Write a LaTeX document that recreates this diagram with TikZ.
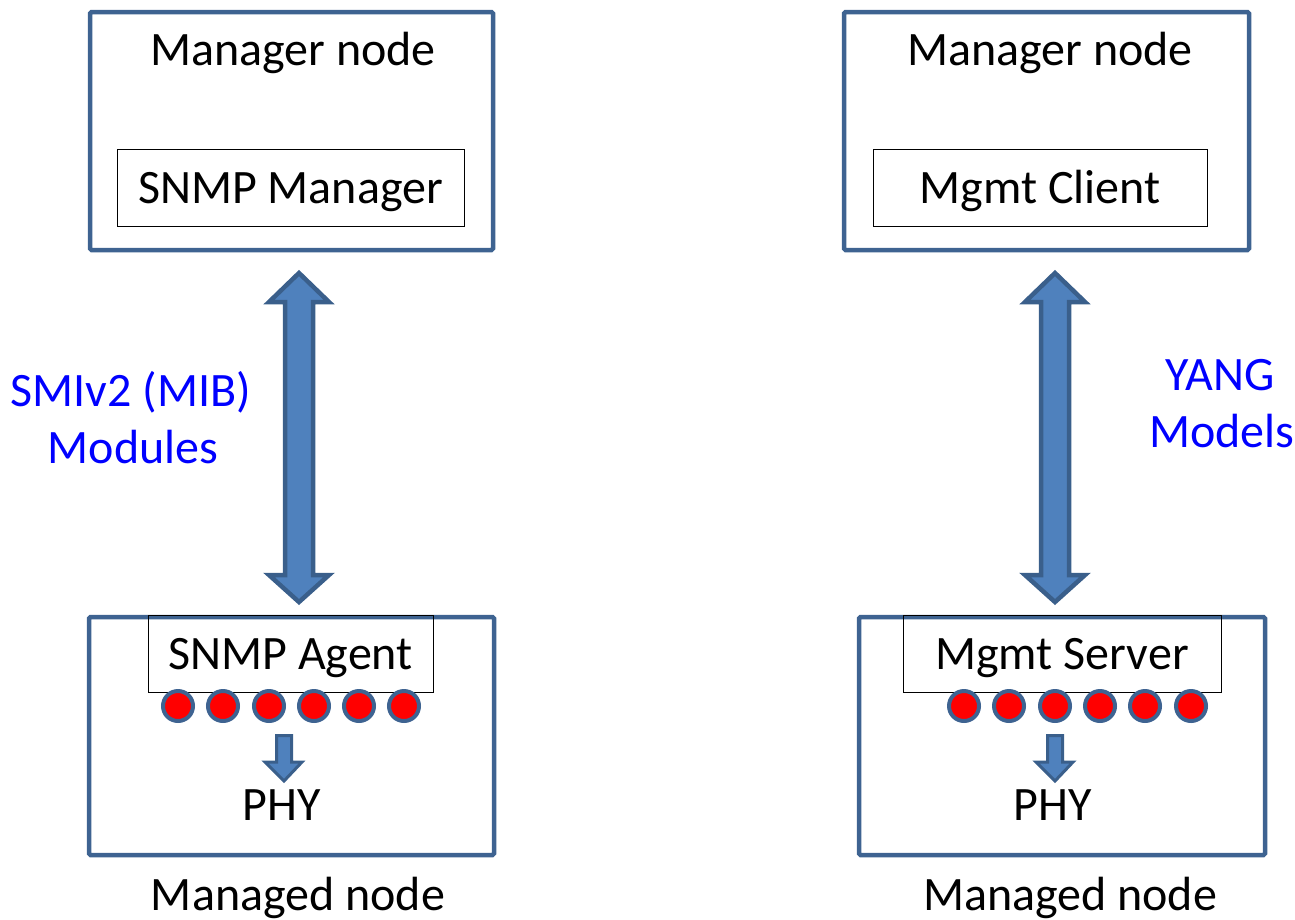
\documentclass[tikz,border=0pt]{standalone}
\usepackage{fontspec}
\setmainfont{Carlito}
\definecolor{boxblue}{HTML}{3E6391}
\definecolor{arrowfill}{HTML}{4F81BD}
\definecolor{arrowedge}{HTML}{3A5F8B}
\begin{document}
\begin{tikzpicture}[x=1pt,y=-1pt,
  outerbox/.style={draw=boxblue, line width=4.5pt, rounded corners=1.5pt, inner sep=0pt},
  innerbox/.style={draw=black, line width=0.9pt, inner sep=0pt},
  lbl/.style={font=\fontsize{48}{57}\selectfont, anchor=base, inner sep=0pt},
  bluelbl/.style={lbl, text=blue},
  reddot/.style={circle, fill=red, draw=boxblue, line width=4pt, minimum size=30pt, inner sep=0pt},
  bigarrow/.style={fill=arrowfill, draw=arrowedge, line width=4.5pt, line join=miter},
  smallarrow/.style={fill=arrowfill, draw=arrowedge, line width=3pt, line join=miter}]
\useasboundingbox (0,0) rectangle (1295,919);

% top boxes
\draw[outerbox] (90,12) rectangle (493,250);
\node[lbl] (mgrLt) at (293,65) {Manager node};
\draw[innerbox] (117,149) rectangle (464,226);
\node[lbl] (snmpmgr) at (290.5,203) {SNMP Manager};

\draw[outerbox] (844,12) rectangle (1249,250);
\node[lbl] (mgrRt) at (1050,65) {Manager node};
\draw[innerbox] (873,149) rectangle (1207,226);
\node[lbl] (mgmtcl) at (1040,203) {Mgmt Client};

% bottom boxes
\draw[outerbox] (89,617) rectangle (494,855);
\draw[innerbox] (148,615) rectangle (433,692);
\node[lbl] (agent) at (290.5,669) {SNMP Agent};
\foreach \x [count=\i] in {178,223,269,314,359,404}
  \node[reddot] (dl\i) at (\x,706) {};
\draw[smallarrow] (276.5,735.5) -- (291.5,735.5) -- (291.5,762) -- (302,762) -- (284,781) -- (265,762) -- (276.5,762) -- cycle;
\node[lbl] (phyL) at (282,820) {PHY};
\node[lbl] (mgdL) at (298,910) {Managed node};

\draw[outerbox] (859,617) rectangle (1265,855);
\draw[innerbox] (903,615) rectangle (1221,692);
\node[lbl] (server) at (1062,669) {Mgmt Server};
\foreach \x [count=\i] in {964,1009,1055,1100,1145,1191}
  \node[reddot] (dr\i) at (\x,706) {};
\draw[smallarrow] (1047.5,735.5) -- (1062.5,735.5) -- (1062.5,762) -- (1073,762) -- (1055,781) -- (1036,762) -- (1047.5,762) -- cycle;
\node[lbl] (phyR) at (1053,820) {PHY};
\node[lbl] (mgdR) at (1070,910) {Managed node};

% big double arrows
\draw[bigarrow] (299,273) -- (329,302) -- (313,302) -- (313,575) -- (329,575) -- (299,602) -- (269,575) -- (285,575) -- (285,302) -- (269,302) -- cycle;
\draw[bigarrow] (1055,273) -- (1085,302) -- (1069,302) -- (1069,575) -- (1085,575) -- (1055,602) -- (1025,575) -- (1041,575) -- (1041,302) -- (1025,302) -- cycle;

% labels
\node[bluelbl] (smi) at (131,406) {SMIv2 (MIB)};
\node[bluelbl] (mod) at (133,463) {Modules};
\node[bluelbl] (yang) at (1220,390) {YANG};
\node[bluelbl] (models) at (1222,447) {Models};
\end{tikzpicture}
\end{document}
